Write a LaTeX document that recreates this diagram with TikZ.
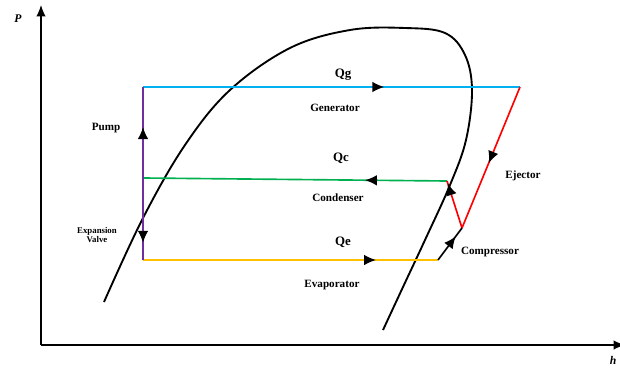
\documentclass[tikz,border=0pt]{standalone}
\usepackage{fontspec}
\setmainfont{Liberation Serif}
\usetikzlibrary{arrows.meta,positioning,decorations.markings}

\definecolor{gencol}{RGB}{0,176,240}
\definecolor{concol}{RGB}{0,176,80}
\definecolor{evacol}{RGB}{255,192,0}
\definecolor{pumpcol}{RGB}{112,48,160}

\begin{document}
\begin{tikzpicture}[
  x=0.03cm, y=-0.03cm,
  >=Latex,
  lbl/.style={font=\bfseries\fontsize{9.5}{10}\selectfont, align=center, inner sep=0pt},
  qlbl/.style={font=\bfseries\fontsize{11}{12}\selectfont, inner sep=0pt},
  line/.style={line width=1.4pt},
  midarrow/.style={postaction={decorate}, decoration={markings,
    mark=at position #1 with {\arrow[black]{Latex[length=3.6mm,width=3.2mm]}}}}
]
\useasboundingbox (0,0) rectangle (620,368);

% axes
\coordinate (o) at (41,345);
\coordinate (ytop) at (41,5);
\coordinate (xend) at (625,345);
\draw[line width=1pt, -{Latex[length=3.4mm,width=2.8mm]}] (o) -- (ytop);
\draw[line width=1pt, -{Latex[length=3.4mm,width=2.8mm]}] (o) -- (xend);
\node[font=\bfseries\itshape\fontsize{10}{11}\selectfont] (plbl) at (18,19) {P};
\node[font=\bfseries\itshape\fontsize{10}{11}\selectfont] (hlbl) at (613,360) {h};

% saturation dome
\draw[line width=1.6pt] plot[smooth, tension=0.6] coordinates {
  (104,302) (143,218) (185,145) (230,90) (290,48) (350,30) (405,28)
  (445,33) (465,55) (472,90) (466,140) (450,185) (425,240) (403,287) (383,330)};

% cycle points
\coordinate (pt) at (143,87);
\coordinate (pm) at (143,178);
\coordinate (pb) at (143,260);
\coordinate (gr) at (520,87);
\coordinate (cr) at (447,181);
\coordinate (er) at (438,260);
\coordinate (mix) at (462,228);

\draw[line, gencol, midarrow=0.64] (pt) -- (gr);
\draw[line, concol, midarrow=0.27] (cr) -- (pm);
\draw[line, evacol, midarrow=0.79] (pb) -- (er);
\draw[line, pumpcol, midarrow=0.56] (pm) -- (pt);
\draw[line, pumpcol, midarrow=0.79] (pm) -- (pb);
\draw[line, red, midarrow=0.54] (gr) -- (mix);
\draw[line, red, midarrow=0.95] (mix) -- (cr);
\draw[line, black, midarrow=0.74] (er) -- (mix);

% labels
\node[qlbl] (qg) at (343,75) {Qg};
\node[lbl] (gen) at (335,108) {Generator};
\node[qlbl] (qc) at (341,158) {Qc};
\node[lbl] (con) at (338,198) {Condenser};
\node[qlbl] (qe) at (343,242) {Qe};
\node[lbl] (eva) at (332,285) {Evaporator};
\node[lbl] (pump) at (106,128) {Pump};
\node[lbl, font=\bfseries\fontsize{7.5}{8}\selectfont] (exv) at (97,235) {Expansion\\Valve};
\node[lbl] (ejc) at (523,176) {Ejector};
\node[lbl] (cmp) at (490,252) {Compressor};
\end{tikzpicture}
\end{document}
